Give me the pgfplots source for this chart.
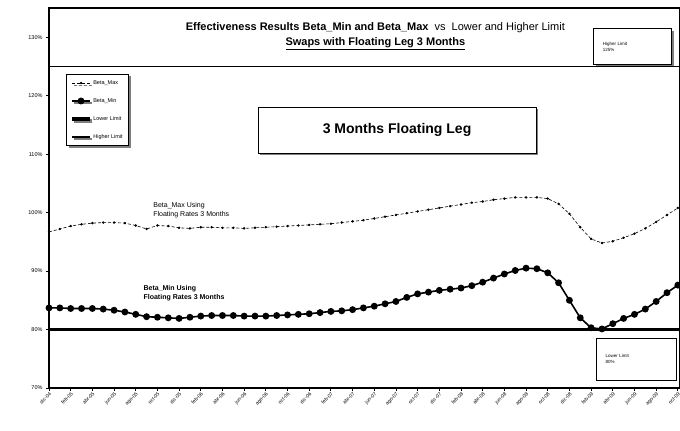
\documentclass[border=0pt]{standalone}
\usepackage{fontspec}
\setmainfont{Liberation Sans}
\usepackage{pgfplots}
\usepackage{pgfplotstable}
\pgfplotsset{compat=1.18}
\usetikzlibrary{shadows}
\pgfplotstableread{
i bmax bmin
0 96.7 83.7
1 97.2 83.7
2 97.7 83.6
3 98.0 83.6
4 98.2 83.6
5 98.3 83.5
6 98.3 83.3
7 98.2 83.0
8 97.8 82.6
9 97.2 82.2
10 97.8 82.1
11 97.7 82.0
12 97.4 81.9
13 97.3 82.1
14 97.5 82.3
15 97.5 82.4
16 97.4 82.4
17 97.4 82.4
18 97.3 82.3
19 97.4 82.3
20 97.5 82.3
21 97.6 82.4
22 97.7 82.5
23 97.8 82.6
24 97.9 82.7
25 98.0 82.9
26 98.1 83.1
27 98.3 83.2
28 98.5 83.4
29 98.7 83.7
30 99.0 84.0
31 99.3 84.4
32 99.6 84.8
33 99.9 85.5
34 100.2 86.1
35 100.5 86.4
36 100.8 86.7
37 101.1 86.9
38 101.4 87.1
39 101.7 87.5
40 101.9 88.1
41 102.2 88.8
42 102.4 89.5
43 102.6 90.1
44 102.6 90.5
45 102.6 90.4
46 102.4 89.7
47 101.5 88.0
48 99.8 85.0
49 97.5 82.0
50 95.5 80.3
51 94.8 80.1
52 95.1 81.0
53 95.7 81.9
54 96.4 82.6
55 97.3 83.5
56 98.4 84.8
57 99.6 86.3
58 100.8 87.6
}\datatable
\begin{document}
\begin{tikzpicture}
\begin{axis}[
  at={(0,0)}, anchor=south west,
  scale only axis, width=631pt, height=380pt,
  xmin=0, xmax=58.2, ymin=70, ymax=135,
  axis line style={line width=1.2pt},
  xtick={0,2,...,58},
  xticklabels={dic-04,feb-05,abr-05,jun-05,ago-05,oct-05,dic-05,feb-06,abr-06,jun-06,ago-06,oct-06,dic-06,feb-07,abr-07,jun-07,ago-07,oct-07,dic-07,feb-08,abr-08,jun-08,ago-08,oct-08,dic-08,feb-09,abr-09,jun-09,ago-09,oct-09},
  x tick label style={rotate=45, anchor=north east, font=\fontsize{5}{5.5}\selectfont, inner sep=0.5pt},
  ytick={70,80,...,130},
  yticklabel={\pgfmathprintnumber{\tick}\%},
  y tick label style={font=\fontsize{5.5}{6}\selectfont},
  /pgf/number format/assume math mode=true,
  tick style={black, line width=0.8pt},
  major tick length=3pt,
  xtick pos=bottom, ytick pos=left,
  tick align=outside,
  clip=false,
  legend style={at={(axis cs:1.6,123.7)}, anchor=north west, font=\fontsize{5.5}{6}\selectfont,
    draw=black, line width=0.8pt, drop shadow={shadow xshift=2pt, shadow yshift=-2pt, fill=black},
    row sep=8.5pt, inner sep=4pt, fill=white},
  legend cell align=left,
]
\addplot[black, line width=0.6pt, densely dashed, mark=*, mark size=0.9pt, mark options={solid}] table[x=i, y=bmax] {\datatable};
\addlegendentry{Beta\_Max}
\addplot[black, line width=1.6pt, mark=*, mark size=2.6pt] table[x=i, y=bmin] {\datatable};
\addlegendentry{Beta\_Min}
\addplot[black, line width=3.5pt] coordinates {(0,80) (58.2,80)};
\addlegendentry{Lower Limit}
\addplot[black, line width=1.8pt] coordinates {(0,125) (58.2,125)};
\addlegendentry{Higher Limit}

\node[font=\fontsize{11}{15}\selectfont, align=center] at (axis cs:30.1,130.1)
  {\textbf{Effectiveness Results Beta\_Min and Beta\_Max}\ \ vs\ \ Lower and Higher Limit\\ \textbf{\underline{Swaps with Floating Leg 3 Months}}};
\node[draw, line width=0.8pt, fill=white, drop shadow={shadow xshift=2pt, shadow yshift=-2pt, fill=black}, font=\fontsize{4.5}{6}\selectfont, align=left, minimum width=78pt, minimum height=36pt, text width=60pt] at (axis cs:53.85,128.35) {Higher Limit\\125\%};
\node[draw, line width=1.2pt, fill=white, font=\fontsize{4.5}{6}\selectfont, align=left, minimum width=80pt, minimum height=42pt, text width=62pt] at (axis cs:54.2,74.9) {Lower Limit\\80\%};
\node[draw, line width=0.8pt, fill=white, drop shadow={shadow xshift=2pt, shadow yshift=-2pt, fill=black}, font=\fontsize{14}{16}\selectfont\bfseries, minimum width=278pt, minimum height=46pt] at (axis cs:32.1,114.1) {3 Months Floating Leg};
\node[anchor=west, font=\fontsize{7}{9}\selectfont, align=left] at (axis cs:9.3,100.4) {Beta\_Max Using\\Floating Rates 3 Months};
\node[anchor=west, font=\fontsize{7}{9}\selectfont\bfseries, align=left] at (axis cs:8.4,86.2) {Beta\_Min Using\\Floating Rates 3 Months};
\end{axis}
\pgfresetboundingbox
\path[use as bounding box] (-49pt,-43pt) rectangle (631pt,388pt);
\end{tikzpicture}
\end{document}
